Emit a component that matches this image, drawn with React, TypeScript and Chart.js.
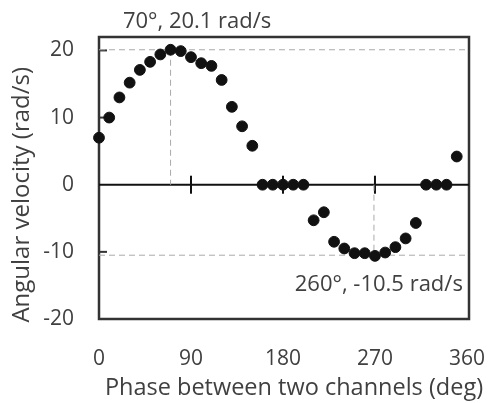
import React, { useEffect, useRef } from "react";
import { Chart, registerables } from "chart.js";

Chart.register(...registerables);

const phaseDeg = [0, 10, 20, 30, 40, 50, 60, 70, 80, 90, 100, 110, 120, 130, 140, 150, 160, 170, 180, 190, 200, 210, 220, 230, 240, 250, 260, 270, 280, 290, 300, 310, 320, 330, 340, 350];
const angularVelocity = [7.0, 10.0, 13.0, 15.2, 17.1, 18.3, 19.4, 20.1, 19.9, 19.0, 18.1, 17.7, 15.6, 11.6, 8.7, 5.8, 0, 0, 0, 0, 0, -5.3, -4.1, -8.5, -9.5, -10.2, -10.2, -10.6, -10.1, -9.3, -8.0, -5.7, 0, 0, 0, 4.2];

const xTickLabels = [0, 90, 180, 270, 360];
const yTickLabels = [-20, -10, 0, 10, 20];

const maxPoint = { phase: 70, value: 20.1 };
const minPoint = { phase: 269, value: -10.5 };
const maxLabel = "70°, 20.1 rad/s";
const minLabel = "260°, -10.5 rad/s";
const xTitle = "Phase between two channels (deg)";
const yTitle = "Angular velocity (rad/s)";

const X_MIN = 0;
const X_MAX = 362;
const Y_MIN = -20;
const Y_MAX = 22;

const FONT = "'Open Sans', 'Noto Sans', sans-serif";
const TEXT = "#404040";

const framePlugin = {
  id: "frame",
  beforeDatasetsDraw(chart: any) {
    const { ctx, chartArea, scales } = chart;
    const xs = scales.x;
    const ys = scales.y;
    ctx.save();
    ctx.strokeStyle = "#333";
    ctx.lineWidth = 2.5;
    ctx.strokeRect(chartArea.left, chartArea.top, chartArea.right - chartArea.left, chartArea.bottom - chartArea.top);
    const y0 = ys.getPixelForValue(0);
    ctx.strokeStyle = "#111";
    ctx.lineWidth = 2;
    ctx.beginPath();
    ctx.moveTo(chartArea.left, y0);
    ctx.lineTo(chartArea.right, y0);
    ctx.stroke();
    for (const v of [90, 180, 270]) {
      const px = xs.getPixelForValue(v);
      ctx.beginPath();
      ctx.moveTo(px, y0 - 9);
      ctx.lineTo(px, y0 + 9);
      ctx.stroke();
    }
    ctx.strokeStyle = "#333";
    for (const v of [20, 10, -10]) {
      const py = ys.getPixelForValue(v);
      ctx.beginPath();
      ctx.moveTo(chartArea.left, py);
      ctx.lineTo(chartArea.left + 8, py);
      ctx.stroke();
    }
    ctx.restore();
  },
  afterDraw(chart: any) {
    const { ctx, scales, chartArea } = chart;
    const xs = scales.x;
    const ys = scales.y;
    ctx.save();
    ctx.fillStyle = TEXT;
    ctx.font = `22px ${FONT}`;
    ctx.textBaseline = "middle";
    ctx.textAlign = "center";
    ctx.fillText(maxLabel, xs.getPixelForValue(96), chartArea.top - 15);
    ctx.textAlign = "right";
    ctx.fillText(minLabel, xs.getPixelForValue(356), ys.getPixelForValue(-14.9));
    // axis titles
    ctx.textAlign = "center";
    ctx.font = `23.5px ${FONT}`;
    ctx.fillText(xTitle, chartArea.left + 195, 388);
    ctx.font = `24px ${FONT}`;
    ctx.translate(22, ys.getPixelForValue(-1.5));
    ctx.rotate(-Math.PI / 2);
    ctx.fillText(yTitle, 0, 0);
    ctx.restore();
  },
};

export default function App() {
  const ref = useRef<HTMLCanvasElement>(null);
  useEffect(() => {
    document.body.style.margin = "0";
    const canvas = ref.current!;
    const dash = [6, 4];
    const chart = new Chart(canvas, {
      type: "scatter",
      data: {
        datasets: [
          {
            data: phaseDeg.map((x, i) => ({ x, y: angularVelocity[i] })),
            backgroundColor: "#111",
            borderColor: "#111",
            pointRadius: 5.4,
            pointHoverRadius: 5.4,
            order: 0,
            clip: false as any,
          },
          {
            data: [{ x: X_MIN, y: maxPoint.value }, { x: X_MAX, y: maxPoint.value }],
            showLine: true, borderColor: "#aaa", borderWidth: 1, borderDash: dash, pointRadius: 0, order: 1,
          },
          {
            data: [{ x: maxPoint.phase, y: maxPoint.value }, { x: maxPoint.phase, y: 0 }],
            showLine: true, borderColor: "#aaa", borderWidth: 1, borderDash: dash, pointRadius: 0, order: 1,
          },
          {
            data: [{ x: X_MIN, y: minPoint.value }, { x: X_MAX, y: minPoint.value }],
            showLine: true, borderColor: "#aaa", borderWidth: 1, borderDash: dash, pointRadius: 0, order: 1,
          },
          {
            data: [{ x: minPoint.phase, y: 0 }, { x: minPoint.phase, y: minPoint.value }],
            showLine: true, borderColor: "#aaa", borderWidth: 1, borderDash: dash, pointRadius: 0, order: 1,
          },
        ],
      },
      options: {
        animation: false,
        responsive: false,
        devicePixelRatio: 1,
        layout: { padding: { top: 37, right: 23, left: 0, bottom: 0 } },
        plugins: { legend: { display: false }, tooltip: { enabled: false } },
        scales: {
          x: {
            type: "linear",
            min: X_MIN,
            max: X_MAX,
            grid: { display: false, drawTicks: false },
            border: { display: false },
            afterBuildTicks: (s: any) => { s.ticks = xTickLabels.map((v) => ({ value: v })); },
            afterFit: (s: any) => { s.height = 84; s.paddingLeft = 0; s.paddingRight = 0; },
            ticks: { padding: 27, color: TEXT, font: { family: FONT, size: 21 }, maxRotation: 0 },
            title: { display: false, text: xTitle },
          },
          y: {
            type: "linear",
            min: Y_MIN,
            max: Y_MAX,
            grid: { display: false, drawTicks: false },
            border: { display: false },
            afterBuildTicks: (s: any) => { s.ticks = yTickLabels.map((v) => ({ value: v })); },
            afterFit: (s: any) => { s.width = 99; s.paddingTop = 0; s.paddingBottom = 0; },
            ticks: { padding: 25, color: TEXT, font: { family: FONT, size: 21 } },
            title: { display: false, text: yTitle },
          },
        },
      },
      plugins: [framePlugin],
    });
    return () => chart.destroy();
  }, []);
  return <canvas ref={ref} width={492} height={403} style={{ display: "block" }} />;
}
